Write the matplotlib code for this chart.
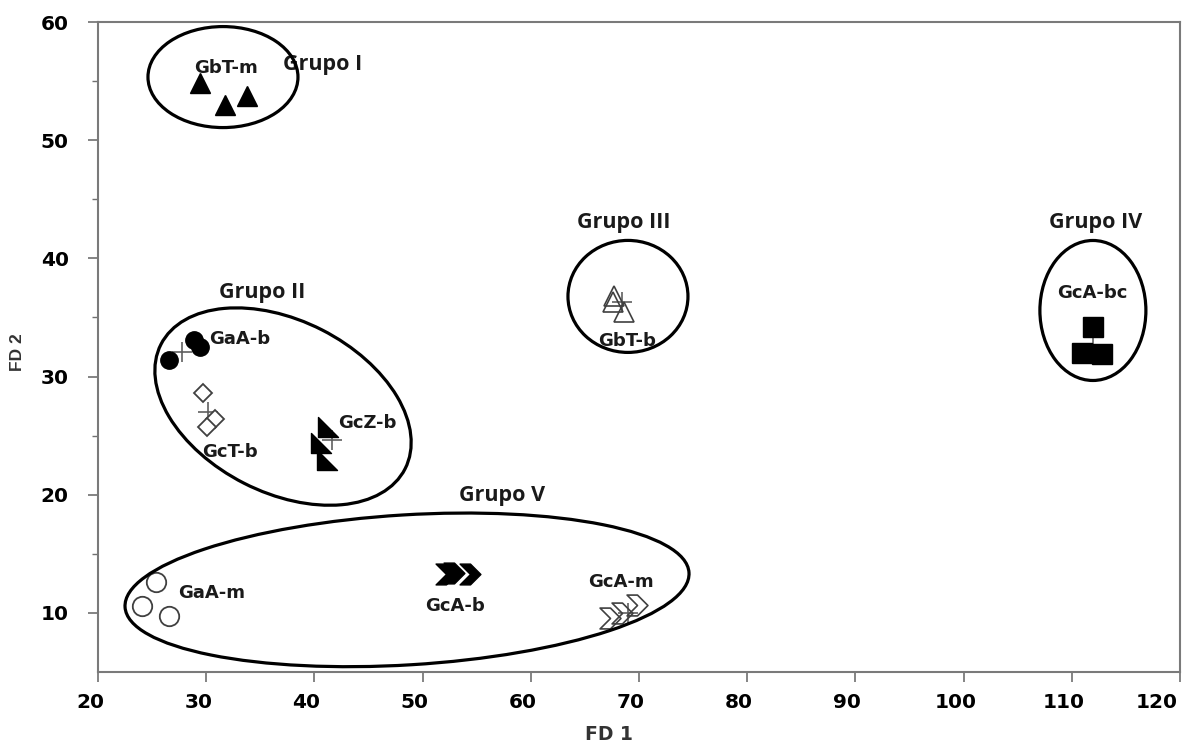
import matplotlib
matplotlib.use("Agg")
import matplotlib.pyplot as plt
from matplotlib.patches import Ellipse
from matplotlib.path import Path
import matplotlib.transforms as mtransforms

plt.rcParams['font.family'] = ['DejaVu Sans']

# ---- data (FD1, FD2) ----
GbT_m_x = [29.4, 31.7, 33.8]
GbT_m_y = [54.8, 53.0, 53.7]

GaA_b_x = [28.9, 29.4, 26.6]
GaA_b_y = [33.1, 32.5, 31.4]

GcT_b_x = [29.7, 30.8, 30.1]
GcT_b_y = [28.6, 26.4, 25.7]

GcZ_b_x = [41.3, 40.6, 41.2]
GcZ_b_y = [25.7, 24.4, 22.9]

GbT_b_x = [67.7, 67.6, 68.6]
GbT_b_y = [36.8, 36.3, 35.5]

GcA_bc_x = [112.0, 110.9, 112.8]
GcA_bc_y = [34.2, 32.0, 31.9]

GaA_m_x = [25.4, 24.1, 26.6]
GaA_m_y = [12.6, 10.6, 9.7]

GcA_b_x = [52.2, 52.9, 54.4]
GcA_b_y = [13.3, 13.4, 13.3]

GcA_m_x = [67.3, 68.4, 69.8]
GcA_m_y = [9.6, 10.0, 10.7]

# group centroids
cent_x = [27.8, 30.2, 41.6, 68.4, 112.0, 69.0]
cent_y = [32.1, 27.0, 24.6, 36.3, 32.7, 10.0]

# group ellipses: centre (data), width/height (px), angle (deg)
ell_cx = [31.55, 37.10, 68.98, 111.95, 48.56]
ell_cy = [55.34, 27.46, 36.78, 35.59, 11.95]
ell_w = [150, 274, 120, 106, 565]
ell_h = [101, 172, 112, 140, 150]
ell_ang = [0, -27, 0, 0, 3.5]

group_names = ["Grupo I", "Grupo II", "Grupo III", "Grupo IV", "Grupo V"]
group_lx = [40.8, 35.2, 68.6, 112.2, 57.3]
group_ly = [56.4, 37.1, 43.05, 43.05, 19.9]

pt_names = ["GbT-m", "GaA-b", "GcT-b", "GcZ-b", "GbT-b", "GcA-bc", "GaA-m", "GcA-b", "GcA-m"]
pt_lx = [31.8, 33.1, 32.2, 44.9, 68.9, 111.9, 30.5, 53.0, 68.3]
pt_ly = [56.1, 33.2, 23.6, 26.1, 33.0, 37.1, 11.7, 10.6, 12.6]

xticks = [20, 30, 40, 50, 60, 70, 80, 90, 100, 110, 120]
yticks = [10, 20, 30, 40, 50, 60]

# ---- figure ----
fig = plt.figure(figsize=(11.82, 7.46), dpi=100)
ax = fig.add_axes([98/1182, 1-672/746, (1180-98)/1182, (672-22)/746])
ax.set_xlim(20, 120)
ax.set_ylim(5, 60)

chevron = Path([(-1, 1), (0, 1), (1, 0), (0, -1), (-1, -1), (0, 0), (-1, 1)],
               [Path.MOVETO] + [Path.LINETO]*5 + [Path.CLOSEPOLY])
rtri = Path([(-1, 1), (-1, -1), (1, -1), (-1, 1)],
            [Path.MOVETO, Path.LINETO, Path.LINETO, Path.CLOSEPOLY])

edge = '#404040'
ax.plot(GbT_m_x, GbT_m_y, '^', ms=15, color='black', zorder=3)
ax.plot(GaA_b_x, GaA_b_y, 'o', ms=12.5, color='black', zorder=3)
ax.plot(GcT_b_x, GcT_b_y, 'D', ms=9, mfc='white', mec=edge, mew=1.3, zorder=3)
ax.plot(GcZ_b_x, GcZ_b_y, marker=rtri, ls='none', ms=14, color='black', zorder=3)
ax.plot(GbT_b_x, GbT_b_y, '^', ms=14, mfc='none', mec=edge, mew=1.2, zorder=3)
ax.plot(GcA_bc_x, GcA_bc_y, 's', ms=15, color='black', zorder=3)
ax.plot(GaA_m_x, GaA_m_y, 'o', ms=14, mfc='white', mec=edge, mew=1.3, zorder=3)
ax.plot(GcA_b_x, GcA_b_y, marker=chevron, ls='none', ms=15, color='black', zorder=3)
ax.plot(GcA_m_x, GcA_m_y, marker=chevron, ls='none', ms=15, mfc='none', mec=edge, mew=1.2, zorder=3)
ax.plot(cent_x, cent_y, '+', ms=14, color='#606060', mew=1.2, zorder=2)

for cx, cy, w, h, a in zip(ell_cx, ell_cy, ell_w, ell_h, ell_ang):
    tr = fig.dpi_scale_trans + mtransforms.ScaledTranslation(cx, cy, ax.transData)
    e = Ellipse((0, 0), w/100, h/100, angle=a, transform=tr,
                fill=False, ec='black', lw=2.3, zorder=4)
    ax.add_patch(e)

for name, x, y in zip(group_names, group_lx, group_ly):
    ax.text(x, y, name, ha='center', va='center', fontsize=15.5,
            fontweight='bold', family=['Open Sans', 'DejaVu Sans'], color='#1a1a1a')
for name, x, y in zip(pt_names, pt_lx, pt_ly):
    ax.text(x, y, name, ha='center', va='center', fontsize=13,
            fontweight='bold', color='#1a1a1a')

ax.set_xticks(xticks)
ax.set_yticks(yticks)
ax.set_yticks([15, 25, 35, 45, 55], minor=True)
ax.tick_params(axis='both', which='major', direction='out', length=7,
               width=1.2, color='#707070', labelsize=14.5)
ax.tick_params(axis='x', which='major', pad=8)
ax.tick_params(axis='y', which='major', pad=14)
ax.tick_params(axis='y', which='minor', direction='out', length=4,
               width=1.0, color='#707070')
for lab in ax.get_xticklabels() + ax.get_yticklabels():
    lab.set_fontweight('bold')
shift = mtransforms.ScaledTranslation(-8/100, 0, fig.dpi_scale_trans)
xlabs = ax.get_xticklabels()
for lab in xlabs:
    lab.set_transform(lab.get_transform() + shift)
xlabs[-1].set_horizontalalignment('right')
xlabs[-1].set_transform(xlabs[-1].get_transform()
                        + mtransforms.ScaledTranslation(6/100, 0, fig.dpi_scale_trans))
for s in ax.spines.values():
    s.set_color('#7a7a7a')
    s.set_linewidth(1.5)

fig.text(609/1182, 1-735/746, "FD 1", ha='center', va='center',
         fontsize=13.5, fontweight='bold', color='#333333')
fig.text(18/1182, 1-352/746, "FD 2", ha='center', va='center', rotation=90,
         fontsize=12.5, fontweight='bold', family=['Liberation Sans', 'DejaVu Sans'],
         color='#333333')

fig.savefig("out.png", dpi=100)
